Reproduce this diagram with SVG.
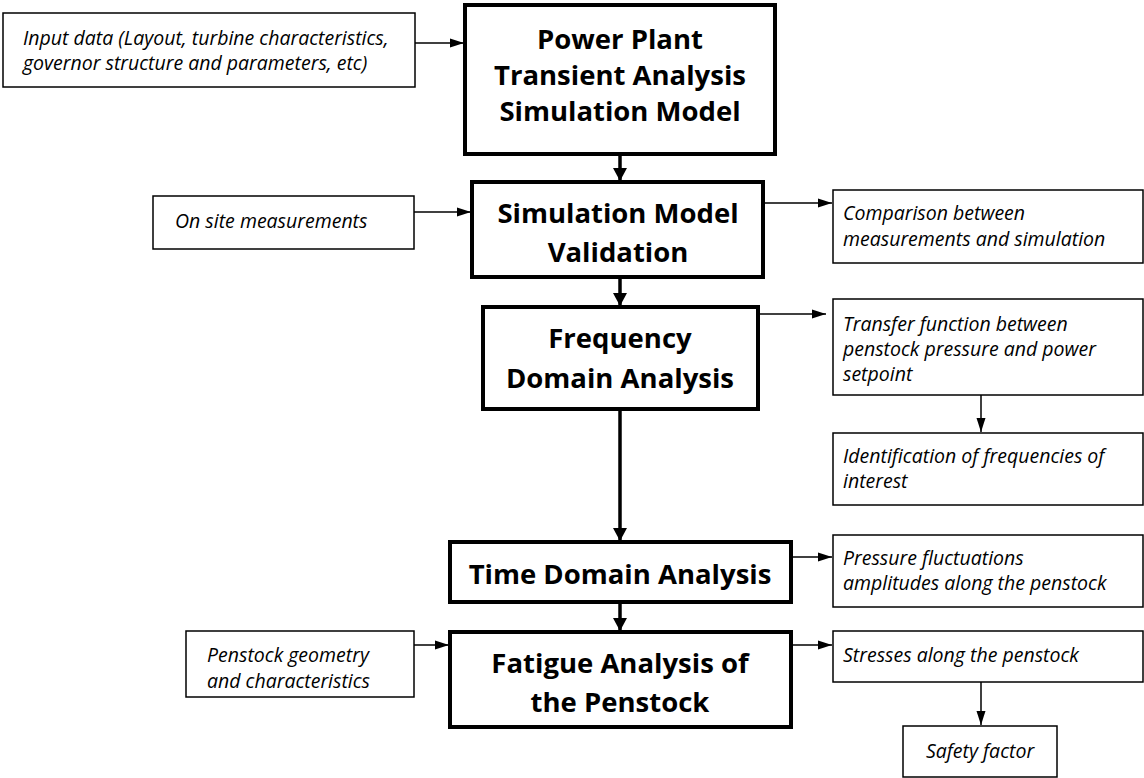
<svg xmlns="http://www.w3.org/2000/svg" width="1144" height="778" viewBox="0 0 1144 778">
  <defs>
    <style>
      .main rect { fill: #fff; stroke: #000; stroke-width: 4; }
      .side rect { fill: #fff; stroke: #000; stroke-width: 1.5; }
      .h { font-family: "Open Sans", "Liberation Sans", sans-serif; font-weight: bold; font-size: 27.5px; fill: #000; text-anchor: middle; }
      .t { font-family: "Open Sans", "Liberation Sans", sans-serif; font-style: italic; font-size: 19.5px; fill: #000; }
      .thick { stroke: #000; stroke-width: 3.5; fill: none; }
      .thin { stroke: #000; stroke-width: 1.5; fill: none; }
    </style>
    <marker id="big" markerUnits="userSpaceOnUse" markerWidth="14" markerHeight="14" refX="13" refY="7" orient="auto">
      <path d="M0,0 L13,7 L0,14 Z" fill="#000"/>
    </marker>
    <marker id="small" markerUnits="userSpaceOnUse" markerWidth="14" markerHeight="10" refX="14" refY="5" orient="auto">
      <path d="M0,0.5 L14,5 L0,9.5 Z" fill="#000"/>
    </marker>
  </defs>
  <rect x="0" y="0" width="1144" height="778" fill="#fff"/>

  <g id="connectors">
    <line class="thick" x1="620" y1="154" x2="620" y2="181" marker-end="url(#big)"/>
    <line class="thick" x1="620" y1="277" x2="620" y2="306" marker-end="url(#big)"/>
    <line class="thick" x1="620" y1="409" x2="620" y2="541" marker-end="url(#big)"/>
    <line class="thick" x1="620" y1="602" x2="620" y2="631" marker-end="url(#big)"/>
    <line class="thin" x1="415" y1="43" x2="464" y2="43" marker-end="url(#small)"/>
    <line class="thin" x1="414" y1="212" x2="471" y2="212" marker-end="url(#small)"/>
    <line class="thin" x1="763" y1="203" x2="832" y2="203" marker-end="url(#small)"/>
    <line class="thin" x1="758" y1="314" x2="826" y2="314" marker-end="url(#small)"/>
    <line class="thin" x1="981" y1="395" x2="981" y2="432" marker-end="url(#small)"/>
    <line class="thin" x1="791" y1="557" x2="832" y2="557" marker-end="url(#small)"/>
    <line class="thin" x1="791" y1="645" x2="832" y2="645" marker-end="url(#small)"/>
    <line class="thin" x1="414" y1="645" x2="449" y2="645" marker-end="url(#small)"/>
    <line class="thin" x1="981" y1="682" x2="981" y2="725" marker-end="url(#small)"/>
  </g>

  <g id="power-plant" class="main">
    <rect x="465" y="5" width="310" height="149"/>
    <text class="h" x="620" y="49">Power Plant</text>
    <text class="h" x="620" y="85">Transient Analysis</text>
    <text class="h" x="620" y="121">Simulation Model</text>
  </g>

  <g id="validation" class="main">
    <rect x="472" y="182" width="291" height="95"/>
    <text class="h" x="618" y="223">Simulation Model</text>
    <text class="h" x="618" y="262">Validation</text>
  </g>

  <g id="frequency" class="main">
    <rect x="483" y="307" width="275" height="102"/>
    <text class="h" x="620" y="348">Frequency</text>
    <text class="h" x="620" y="388">Domain Analysis</text>
  </g>

  <g id="time" class="main">
    <rect x="450" y="542" width="341" height="60"/>
    <text class="h" x="620" y="584">Time Domain Analysis</text>
  </g>

  <g id="fatigue" class="main">
    <rect x="450" y="632" width="341" height="95"/>
    <text class="h" x="620" y="673">Fatigue Analysis of</text>
    <text class="h" x="620" y="712">the Penstock</text>
  </g>

  <g id="input-data" class="side">
    <rect x="3" y="13" width="412" height="74"/>
    <text class="t" x="23" y="45">Input data (Layout, turbine characteristics,</text>
    <text class="t" x="23" y="70">governor structure and parameters, etc)</text>
  </g>

  <g id="on-site" class="side">
    <rect x="153" y="196" width="261" height="53"/>
    <text class="t" x="175" y="228">On site measurements</text>
  </g>

  <g id="comparison" class="side">
    <rect x="833" y="190" width="310" height="73"/>
    <text class="t" x="843" y="220">Comparison between</text>
    <text class="t" x="843" y="246">measurements and simulation</text>
  </g>

  <g id="transfer" class="side">
    <rect x="833" y="299" width="310" height="96"/>
    <text class="t" x="843" y="331">Transfer function between</text>
    <text class="t" x="843" y="356">penstock pressure and power</text>
    <text class="t" x="843" y="381">setpoint</text>
  </g>

  <g id="identification" class="side">
    <rect x="833" y="433" width="310" height="72"/>
    <text class="t" x="843" y="463">Identification of frequencies of</text>
    <text class="t" x="843" y="488">interest</text>
  </g>

  <g id="pressure" class="side">
    <rect x="833" y="535" width="310" height="72"/>
    <text class="t" x="843" y="565">Pressure fluctuations</text>
    <text class="t" x="843" y="590">amplitudes along the penstock</text>
  </g>

  <g id="stresses" class="side">
    <rect x="833" y="631" width="310" height="51"/>
    <text class="t" x="843" y="662">Stresses along the penstock</text>
  </g>

  <g id="safety" class="side">
    <rect x="903" y="726" width="154" height="51"/>
    <text class="t" x="980" y="758" text-anchor="middle">Safety factor</text>
  </g>

  <g id="penstock-geometry" class="side">
    <rect x="186" y="631" width="228" height="66"/>
    <text class="t" x="207" y="662">Penstock geometry</text>
    <text class="t" x="207" y="688">and characteristics</text>
  </g>
</svg>
